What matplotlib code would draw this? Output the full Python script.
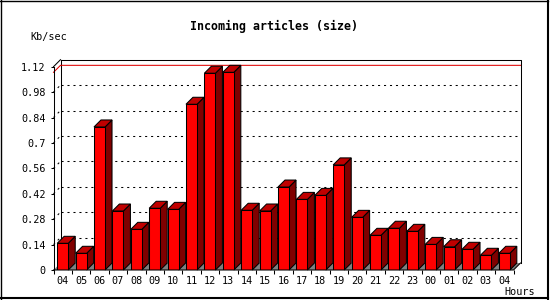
import matplotlib
matplotlib.use("Agg")
import matplotlib.pyplot as plt
from matplotlib.patches import Polygon
from matplotlib.lines import Line2D

plt.rcParams['lines.scale_dashes'] = False

hours = ['04', '05', '06', '07', '08', '09', '10', '11', '12', '13', '14', '15',
         '16', '17', '18', '19', '20', '21', '22', '23', '00', '01', '02', '03', '04']
values = [0.147, 0.092, 0.788, 0.325, 0.224, 0.340, 0.334, 0.913, 1.084, 1.089,
          0.329, 0.325, 0.457, 0.389, 0.411, 0.579, 0.290, 0.191, 0.230, 0.213,
          0.141, 0.128, 0.114, 0.081, 0.092]
yticks = [0, 0.14, 0.28, 0.42, 0.56, 0.7, 0.84, 0.98, 1.12]
ytick_labels = ['0', '0.14', '0.28', '0.42', '0.56', '0.7', '0.84', '0.98', '1.12']
title = 'Incoming articles (size)'
ylabel = 'Kb/sec'
xlabel = 'Hours'

W, H = 550, 300
FONT = 'DejaVu Sans Mono'
fig = plt.figure(figsize=(W / 100, H / 100), dpi=100)
fig.patch.set_facecolor('white')

# front plot area (pixels)
x0, x1, ybot, ytop = 53.5, 513.5, 270, 66.7
ax = fig.add_axes([x0 / W, (H - ybot) / H, (x1 - x0) / W, (ybot - ytop) / H])
ax.set_facecolor('none')
n = len(values)
ymax = yticks[-1]
ax.set_xlim(0, n)
ax.set_ylim(0, ymax)
for s in ax.spines.values():
    s.set_visible(False)

# depth offsets (7 px) converted to data units
dpx = 7
dx = dpx * n / (x1 - x0)
dy = dpx * ymax / (ybot - ytop)
lw = 0.75
kw = dict(clip_on=False)

# back wall
ax.add_patch(Polygon([(dx, dy), (n + dx, dy), (n + dx, ymax + dy), (dx, ymax + dy)],
                     closed=True, facecolor='white', edgecolor='none', zorder=0, **kw))
ax.add_line(Line2D([dx, n + dx, n + dx], [ymax + dy, ymax + dy, dy], color='black', lw=lw, zorder=1, **kw))
ax.add_line(Line2D([dx, dx], [dy, ymax + dy], color='black', lw=lw, zorder=1, **kw))
ax.add_line(Line2D([0, dx], [ymax, ymax + dy], color='black', lw=lw, zorder=1, **kw))

# grid lines
for t in yticks[1:-1]:
    ax.add_line(Line2D([dx, n + dx], [t + dy, t + dy], color='black', lw=lw,
                       dashes=(1.5, 2.8), zorder=1, **kw))
    ax.add_line(Line2D([0, dx], [t, t + dy], color='black', lw=lw,
                       dashes=(1.5, 2.8), zorder=1, **kw))

# max line
vmax = max(values)
ax.add_line(Line2D([0, dx, n + dx], [vmax, vmax + dy, vmax + dy], color='#e00000', lw=lw, zorder=1.5, **kw))

# floor
ax.add_patch(Polygon([(0, 0), (n, 0), (n + dx, dy), (dx, dy)], closed=True,
                     facecolor='#808080', edgecolor='none', zorder=2, **kw))

# bars
bw = 0.6
for i, v in enumerate(values):
    xl = i + 0.5 - bw / 2
    xr = xl + bw
    z = 3 + i * 0.01
    ax.add_patch(Polygon([(xr, 0), (xr, v), (xr + dx, v + dy), (xr + dx, dy)], closed=True,
                         facecolor='#800000', edgecolor='black', lw=lw, zorder=z, **kw))
    ax.add_patch(Polygon([(xl, v), (xr, v), (xr + dx, v + dy), (xl + dx, v + dy)], closed=True,
                         facecolor='#c00000', edgecolor='black', lw=lw, zorder=z, **kw))
ax.bar([i + 0.5 for i in range(n)], values, width=bw, color='#ff0000',
       edgecolor='black', linewidth=lw, zorder=4)

# front axes lines
ax.add_line(Line2D([0, 0], [0, ymax], color='black', lw=lw, zorder=5, **kw))
ax.add_line(Line2D([0, n, n + dx], [0, 0, dy], color='black', lw=lw, zorder=5, **kw))

# ticks
ax.set_yticks(yticks, ytick_labels)
ax.tick_params(axis='y', length=2.2, width=lw, pad=3.4, labelsize=7.3)
ax.set_xticks([i + 0.5 for i in range(n)], hours)
ax.set_xticks(range(n + 1), minor=True)
ax.tick_params(axis='x', which='major', length=0, pad=4.0, labelsize=7.3)
ax.tick_params(axis='x', which='minor', length=3, width=lw)
for lab in ax.get_xticklabels() + ax.get_yticklabels():
    lab.set_family(FONT)

# texts
fig.text(274.5 / W, 1 - 26 / H, title, ha='center', va='center', family=FONT,
         fontweight='bold', fontsize=8.4)
fig.text(30 / W, 1 - 37 / H, ylabel, ha='left', va='center', family=FONT, fontsize=7.3)
fig.text(504 / W, 1 - 292 / H, xlabel, ha='left', va='center', family=FONT, fontsize=7.3)

# outer frame
ft = fig.transFigure
fig.add_artist(Line2D([0.5 / W, 0.5 / W], [0, 1], color='black', lw=1.0, transform=ft))
fig.add_artist(Line2D([0, 548 / W], [1 - 0.5 / H, 1 - 0.5 / H], color='black', lw=1.0, transform=ft))
fig.add_artist(Line2D([547.5 / W, 547.5 / W], [0, 1], color='black', lw=1.5, transform=ft))
fig.add_artist(Line2D([0, 548 / W], [1 - 298 / H, 1 - 298 / H], color='black', lw=1.5, transform=ft))

fig.savefig('out.png', dpi=100)
